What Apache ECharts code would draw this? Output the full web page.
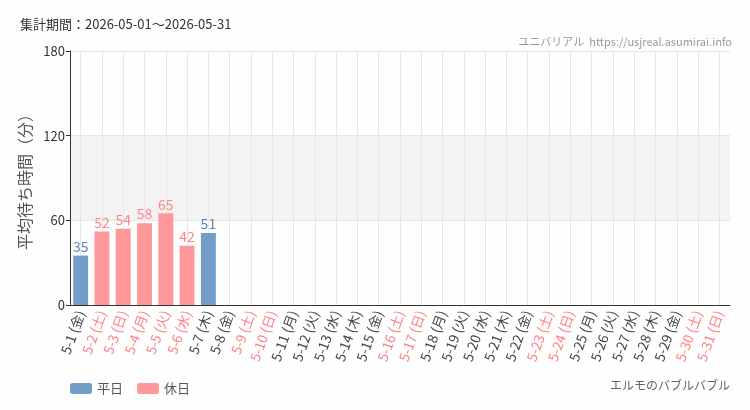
<!DOCTYPE html>
<html>
<head>
<meta charset="utf-8">
<script src="https://cdn.jsdelivr.net/npm/echarts@6/dist/echarts.min.js"></script>
<style>
  html, body { margin: 0; padding: 0; background: #fdfefd; }
  #chart { width: 750px; height: 410px; }
</style>
</head>
<body>
<div id="chart"></div>
<script>
// 日付・曜日
const days = ['5-1','5-2','5-3','5-4','5-5','5-6','5-7','5-8','5-9','5-10','5-11','5-12','5-13','5-14','5-15','5-16','5-17','5-18','5-19','5-20','5-21','5-22','5-23','5-24','5-25','5-26','5-27','5-28','5-29','5-30','5-31'];
const weekdays = ['金','土','日','月','火','水','木','金','土','日','月','火','水','木','金','土','日','月','火','水','木','金','土','日','月','火','水','木','金','土','日'];
const holidays = [0,1,1,1,1,1,0,0,1,1,0,0,0,0,0,1,1,0,0,0,0,0,1,1,0,0,0,0,0,1,1];
const waitTimes = [35,52,54,58,65,42,51];
const yTicks = [0, 60, 120, 180];

const BLUE = '#6a98c4';
const PINK = '#ff9296';
const BLUE_TXT = '#4f80b5';
const PINK_TXT = '#ff7f84';

const categories = days.map((d, i) => ({
  value: `${d} (${weekdays[i]})`,
  textStyle: { color: holidays[i] ? PINK_TXT : '#444' }
}));

const weekdayData = days.map((d, i) => (i < waitTimes.length && !holidays[i]) ? waitTimes[i] : null);
const holidayData = days.map((d, i) => (i < waitTimes.length && holidays[i]) ? waitTimes[i] : null);

const FONT = '"Noto Sans CJK JP", sans-serif';

const chart = echarts.init(document.getElementById('chart'));
chart.setOption({
  animation: false,
  textStyle: { fontFamily: FONT },
  title: [
    { text: '集計期間：2026-05-01〜2026-05-31', left: 15, top: 13,
      textStyle: { fontSize: 13, fontWeight: 'normal', color: '#333', fontFamily: FONT } },
    { text: 'ユニバリアル  https://usjreal.asumirai.info', right: 13, top: 31,
      textStyle: { fontSize: 11, fontWeight: 'normal', color: '#999', fontFamily: FONT } },
    { text: 'エルモのバブルバブル', right: 15, top: 374,
      textStyle: { fontSize: 12, fontWeight: 'normal', color: '#666', fontFamily: FONT } }
  ],
  legend: {
    left: 65, top: 377,
    itemWidth: 22, itemHeight: 11, itemGap: 14,
    textStyle: { fontSize: 13, color: '#555' },
    data: ['平日', '休日']
  },
  grid: { left: 70, right: 20, top: 51, bottom: 105 },
  xAxis: {
    type: 'category',
    data: categories,
    axisLine: { lineStyle: { color: '#333' } },
    axisTick: { alignWithLabel: true, length: 4, lineStyle: { color: '#333' } },
    splitLine: { show: true, alignWithLabel: true, lineStyle: { color: '#e6e6e6' } },
    axisLabel: { rotate: 70, interval: 0, fontSize: 13.5, margin: 6 }
  },
  yAxis: {
    type: 'value',
    min: 0, max: yTicks[yTicks.length - 1], interval: 60,
    name: '平均待ち時間（分）',
    nameLocation: 'middle',
    nameGap: 33,
    nameTextStyle: { fontSize: 16, color: '#555' },
    axisLine: { show: true, lineStyle: { color: '#333' } },
    axisTick: { show: true, length: 4, lineStyle: { color: '#333' } },
    axisLabel: { fontSize: 13, color: '#333', margin: 5 },
    splitLine: { lineStyle: { color: '#e6e6e6' } },
    splitArea: { show: true, areaStyle: { color: ['rgba(0,0,0,0)', '#f3f3f3', 'rgba(0,0,0,0)'] } }
  },
  series: [
    {
      name: '平日', type: 'bar', stack: 'w', barWidth: '70%',
      data: weekdayData,
      itemStyle: { color: BLUE, opacity: 0.95 },
      label: { show: true, position: 'top', distance: 2, color: BLUE_TXT, fontSize: 14 }
    },
    {
      name: '休日', type: 'bar', stack: 'w', barWidth: '70%',
      data: holidayData,
      itemStyle: { color: PINK, opacity: 0.95 },
      label: { show: true, position: 'top', distance: 2, color: PINK_TXT, fontSize: 14 }
    }
  ]
});
</script>
</body>
</html>
